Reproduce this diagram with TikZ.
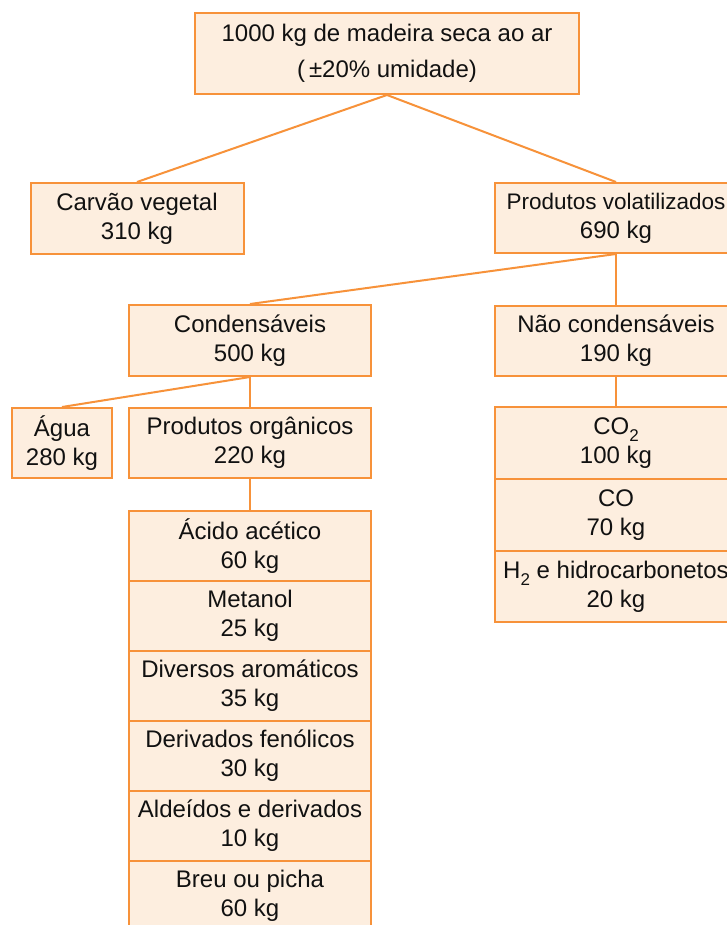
\documentclass[tikz,border=0pt]{standalone}
\usepackage{fontspec}
\setmainfont{Liberation Sans}
\definecolor{boxline}{HTML}{F7923A}
\definecolor{boxfill}{HTML}{FDEEDF}
\definecolor{txt}{HTML}{111111}
\newcommand\mysub[1]{\raisebox{-0.3em}{\fontsize{17}{17}\selectfont #1}}
\tikzset{
  box/.style={draw=boxline, fill=boxfill, line width=2pt, align=center,
    inner sep=0pt, text=txt, font=\fontsize{24}{29}\selectfont},
  link/.style={draw=boxline, line width=2pt},
}
\begin{document}
\begin{tikzpicture}[x=1pt,y=-1pt]
\useasboundingbox (0,0) rectangle (727,925);
\fill[white] (0,0) rectangle (727,925);
% top
\node[box, minimum width=384, minimum height=81, font=\fontsize{24}{36}\selectfont] (top) at (387,53.5)
  {1000 kg de madeira seca ao ar\\(\,±20\% umidade)};
\node[box, minimum width=213, minimum height=71] (carvao) at (137,218.5) {Carvão vegetal\\310 kg};
\node[box, minimum width=242, minimum height=70] (vol) at (616,218)
  {{\fontsize{22.5}{29}\selectfont Produtos volatilizados}\\690 kg};
\node[box, minimum width=242, minimum height=71] (cond) at (250,340.5) {Condensáveis\\500 kg};
\node[box, minimum width=242, minimum height=70] (nao) at (616,341) {Não condensáveis\\190 kg};
\node[box, minimum width=100, minimum height=70] (agua) at (62,443) {Água\\280 kg};
\node[box, minimum width=242, minimum height=70] (org) at (250,443) {Produtos orgânicos\\220 kg};
% left stack
\node[box, minimum width=242, minimum height=70] (r1) at (250,546) {Ácido acético\\60 kg};
\node[box, minimum width=242, minimum height=70] (r2) at (250,616) {Metanol\\25 kg};
\node[box, minimum width=242, minimum height=70] (r3) at (250,686) {Diversos aromáticos\\35 kg};
\node[box, minimum width=242, minimum height=70] (r4) at (250,756) {Derivados fenólicos\\30 kg};
\node[box, minimum width=242, minimum height=70] (r5) at (250,826) {Aldeídos e derivados\\10 kg};
\node[box, minimum width=242, minimum height=70] (r6) at (250,896) {Breu ou picha\\60 kg};
% right stack
\node[box, minimum width=242, minimum height=72] (c1) at (616,443) {CO\mysub{2}\\100 kg};
\node[box, minimum width=242, minimum height=72] (c2) at (616,515) {CO\\70 kg};
\node[box, minimum width=242, minimum height=71] (c3) at (616,586.5) {H\mysub{2} e hidrocarbonetos\\20 kg};
% connectors
\draw[link] (top.south) -- (carvao.north);
\draw[link] (top.south) -- (vol.north);
\draw[link] (vol.south) -- (cond.north);
\draw[link] (vol.south) -- (nao.north);
\draw[link] (cond.south) -- (agua.north);
\draw[link] (cond.south) -- (org.north);
\draw[link] (org.south) -- (r1.north);
\draw[link] (nao.south) -- (c1.north);
\end{tikzpicture}
\end{document}
